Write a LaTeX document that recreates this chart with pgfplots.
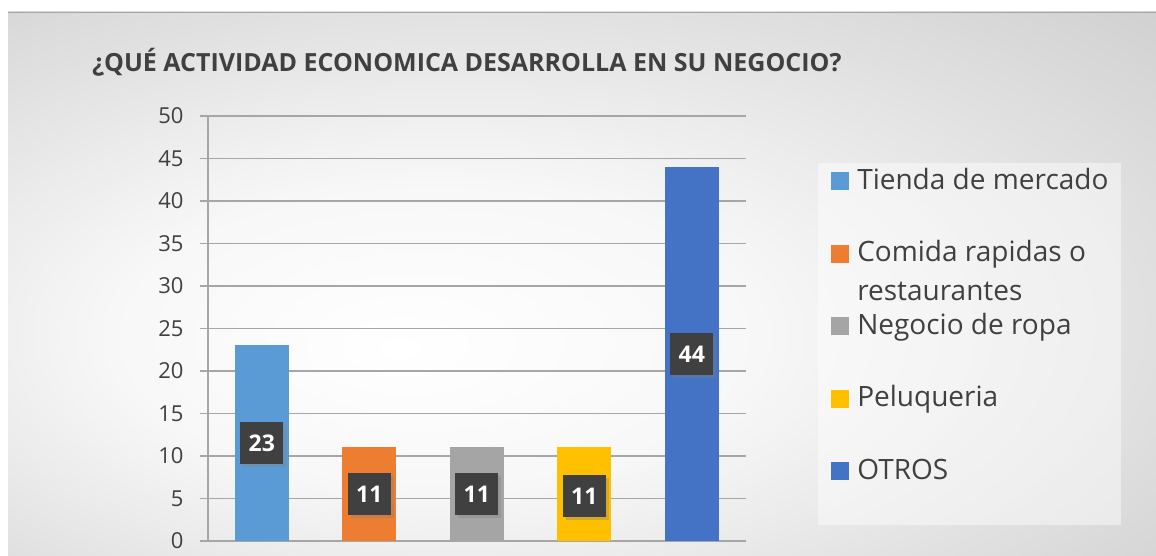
\documentclass[border=0pt]{standalone}
\usepackage{pgfplots}
\pgfplotsset{compat=1.18}
\usepackage{fontspec}
\setmainfont{Open Sans}
\usetikzlibrary{shadows}
\definecolor{c1}{HTML}{5B9BD5}
\definecolor{c2}{HTML}{ED7D31}
\definecolor{c3}{HTML}{A5A5A5}
\definecolor{c4}{HTML}{FFC000}
\definecolor{c5}{HTML}{4472C4}
\definecolor{txt}{HTML}{404040}
\definecolor{gridc}{HTML}{A6A6A6}
\pgfdeclareradialshading{bgshade}{\pgfpoint{-8bp}{-6bp}}{%
  color(0bp)=(white); color(14bp)=(white!97!black); color(48bp)=(black!23); color(70.71bp)=(black!28)}

\begin{document}
\begin{tikzpicture}[x=1pt,y=1pt]
\useasboundingbox (0,0) rectangle (1156,556);
\fill[white] (0,0) rectangle (1156,556);
\shade[shading=bgshade] (8,0) rectangle (1156,544);
\draw[black!35, line width=0.8pt] (8,544) -- (1156,544);

\node[anchor=base west, inner sep=0pt, text=txt, font=\bfseries\fontsize{25}{30}\selectfont]
  at (92,484) {¿QUÉ ACTIVIDAD ECONOMICA DESARROLLA EN SU NEGOCIO?};

\begin{axis}[
  at={(208pt,15pt)}, anchor=south west,
  scale only axis, width=537.5pt, height=425pt,
  xmin=-0.5, xmax=4.5, ymin=0, ymax=50,
  ytick={0,5,...,50}, xtick=\empty,
  axis x line*=bottom, axis y line*=left,
  axis line style={gridc, line width=1.3pt},
  ymajorgrids, grid style={gridc, line width=1.3pt},
  major tick length=8pt, tick align=outside,
  ytick style={gridc, line width=1.3pt},
  /pgf/number format/assume math mode=true,
  yticklabel style={font=\fontsize{22}{26}\selectfont, text=txt, xshift=-13pt},
  legend style={at={(1.135,0.889)}, anchor=north west,
    draw=none, fill=white, fill opacity=0.45, text opacity=1,
    inner xsep=13pt, inner ysep=6pt,
    row sep=12.5pt, column sep=0pt,
    font=\fontsize{28}{33}\selectfont, text=txt,
    nodes={inner sep=0pt, text height=20pt, text depth=40pt}},
  legend cell align=left,
  legend image code/.code={\fill[#1, fill opacity=1] (0pt,9pt) rectangle (18pt,27pt);},
]
\addplot[ybar, bar width=0.5, bar shift=0, fill=c1, draw=none] coordinates {(0,23)};
\addplot[ybar, bar width=0.5, bar shift=0, fill=c2, draw=none] coordinates {(1,11)};
\addplot[ybar, bar width=0.5, bar shift=0, fill=c3, draw=none] coordinates {(2,11)};
\addplot[ybar, bar width=0.5, bar shift=0, fill=c4, draw=none] coordinates {(3,11)};
\addplot[ybar, bar width=0.5, bar shift=0, fill=c5, draw=none] coordinates {(4,44)};
\addplot[draw=none, mark=none, forget plot,
  point meta=explicit symbolic,
  nodes near coords, nodes near coords align=center,
  every node near coord/.style={fill=black!75, text=white,
    font=\bfseries\fontsize{23}{27}\selectfont,
    minimum width=43pt, minimum height=42pt, inner sep=0pt,
    drop shadow={shadow xshift=3pt, shadow yshift=-3pt, opacity=0.35}}]
  coordinates {(0,11.5)[23] (1,5.5)[11] (2,5.5)[11] (3,5.3)[11] (4,22)[44]};
\legend{\hspace{8pt}Tienda de mercado,
  \hspace{8pt}\begin{tabular}[t]{@{}l@{}}Comida rapidas o\\[6pt]restaurantes\end{tabular},
  \hspace{8pt}Negocio de ropa,
  \hspace{8pt}Peluqueria,
  \hspace{8pt}OTROS}
\end{axis}
\end{tikzpicture}
\end{document}
